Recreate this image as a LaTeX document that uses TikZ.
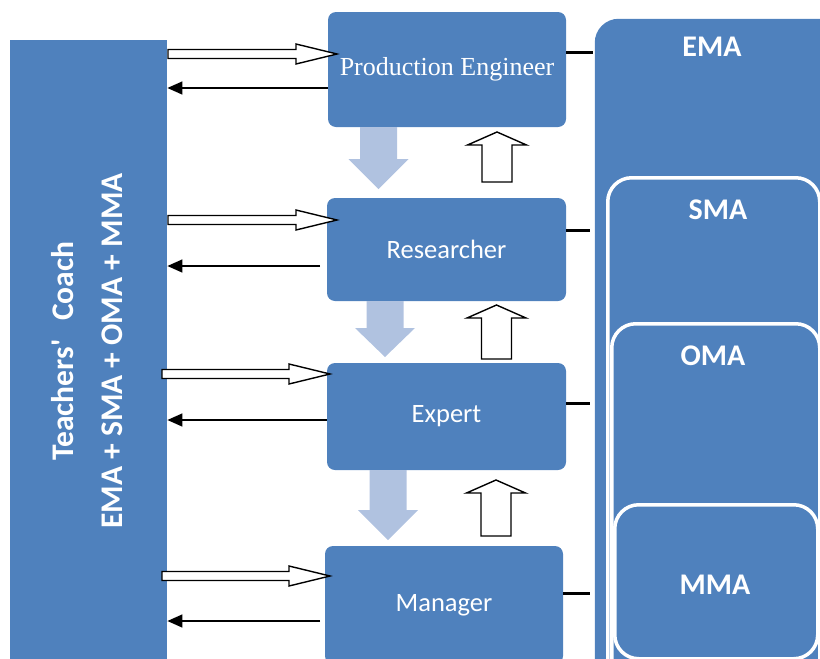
\documentclass[tikz,border=0pt]{standalone}
\usepackage{fontspec}
\setmainfont{Carlito}
\newfontfamily\peserif{Liberation Serif}
\usetikzlibrary{arrows.meta}
\usetikzlibrary{calc}

\definecolor{boxblue}{RGB}{79,129,189}
\definecolor{lightblue}{RGB}{176,194,224}

% block arrows
\newcommand{\feedin}[3]{% x start, x tip, y
  \draw[blockline] (#1,#3-4.5) -- (#2-41,#3-4.5) -- (#2-41,#3-10) -- (#2,#3)
    -- (#2-41,#3+10) -- (#2-41,#3+4.5) -- (#1,#3+4.5) -- cycle;}
\newcommand{\stepdown}[4]{% x centre, top, head base, tip
  \fill[lightblue] (#1-18.5,#2) -- (#1+18.5,#2) -- (#1+18.5,#3) -- (#1+30,#3)
    -- (#1,#4) -- (#1-30,#3) -- (#1-18.5,#3) -- cycle;}
\newcommand{\stepup}[4]{% x centre, bottom, head base, tip
  \draw[blockline] (#1-15,#2) -- (#1+15,#2) -- (#1+15,#3) -- (#1+29.5,#3)
    -- (#1,#4) -- (#1-29.5,#3) -- (#1-15,#3) -- cycle;}

\begin{document}
\begin{tikzpicture}[x=1pt, y=-1pt,
    blockline/.style = {draw=black, fill=white, line width=1.4pt, line join=miter},
    backarrow/.style = {black, line width=1.4pt, -{Triangle[length=15pt, width=13pt]}},
    tie/.style = {black, line width=3pt},
    rolebox/.style = {fill=boxblue, rounded corners=8pt, inner sep=0pt,
        text=white, font=\fontsize{26.5}{30}\selectfont},
    levelbox/.style = {fill=boxblue, draw=white, line width=3.5pt, rounded corners=24pt,
        inner sep=0pt, anchor=north west},
    levelname/.style = {text=white, font=\fontsize{30}{34}\bfseries\selectfont}]

    \useasboundingbox (0,0) rectangle (820,659);
    \clip (0,0) rectangle (820,659);

    % coach bar
    \node[fill=boxblue, inner sep=0pt, minimum width=157, minimum height=640, anchor=north west] (coach) at (10,40) {};
    \node[levelname, rotate=90, font=\fontsize{31.5}{36}\bfseries\selectfont] (coachname) at (63,351) {Teachers\textquotesingle\hspace{0.6em}Coach};
    \node[levelname, rotate=90, font=\fontsize{31.5}{36}\bfseries\selectfont] (coachlevels) at (112,351) {EMA + SMA + OMA + MMA};

    % roles
    \node[rolebox, minimum width=238, minimum height=115, font=\peserif\fontsize{26}{30}\selectfont] (pe) at (447,69.5) {Production Engineer};
    \node[rolebox, minimum width=239, minimum height=103] (res) at (446.5,249.5) {Researcher};
    \node[rolebox, minimum width=239, minimum height=107] (exp) at (446.5,416.5) {Expert};
    \node[rolebox, minimum width=238, minimum height=118] (man) at (444,605) {Manager};

    % levels
    \node[levelbox, draw=none, minimum width=260, minimum height=700] (ema) at (593,17) {};
    \node[levelbox, minimum width=212, minimum height=520] (sma) at (606,176) {};
    \node[levelbox, minimum width=208, minimum height=380] (oma) at (610,322) {};
    \node[levelbox, minimum width=203, minimum height=154] (mma) at (613,503) {};
    \node[levelname] (emaname) at (712,47) {EMA};
    \node[levelname] (smaname) at (718,210) {SMA};
    \node[levelname] (omaname) at (713,356) {OMA};
    \node[levelname] (mmaname) at (715,585) {MMA};

    % ties to the levels
    \draw[tie] (pe.east |- 0,52) -- (ema.west |- 0,52);
    \draw[tie] (res.east |- 0,230) -- (590,230);
    \draw[tie] (exp.east |- 0,403) -- (590,403);
    \draw[tie] (man.east |- 0,593) -- (590,593);

    % coach to roles and back
    \feedin{168}{337}{54}
    \feedin{168}{337}{220}
    \feedin{162}{330}{374}
    \feedin{162}{330}{576}
    \draw[backarrow] (pe.west |- 0,88) -- (coach.east |- 0,88);
    \draw[backarrow] (320,266) -- (coach.east |- 0,266);
    \draw[backarrow] (exp.west |- 0,420) -- (coach.east |- 0,420);
    \draw[backarrow] (320,621) -- (coach.east |- 0,621);

    % between roles
    \stepdown{378.5}{127}{159}{189}
    \stepdown{385}{301}{328}{357}
    \stepdown{388}{470}{510}{540}
    \stepup{497}{182}{145}{132}
    \stepup{496.5}{359}{318}{305}
    \stepup{496}{536}{493}{480}
\end{tikzpicture}
\end{document}
